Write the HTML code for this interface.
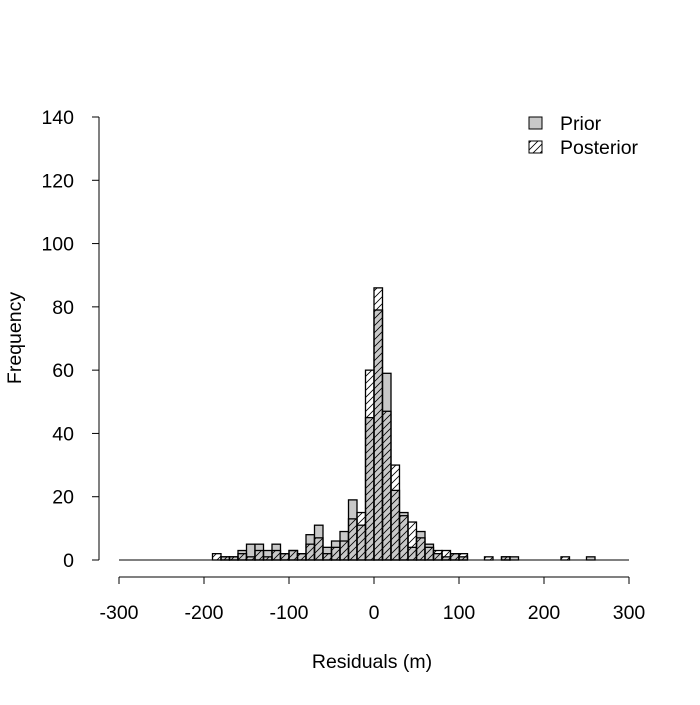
<!DOCTYPE html>
<html><head><meta charset="utf-8"><style>
body{margin:0;background:#fff;}
svg text{font-family:"Liberation Sans",Arial,sans-serif;font-size:19.5px;fill:#000;}
</style></head><body>
<svg id="chart" width="700" height="700" xmlns="http://www.w3.org/2000/svg">
<defs>
<pattern id="hatch" patternUnits="userSpaceOnUse" width="7" height="7">
<path d="M-1,8 L8,-1 M-1,1 L1,-1 M6,8 L8,6" stroke="#000" stroke-width="0.8"/>
</pattern>
</defs>
<g id="bars"></g>
<g id="axes"></g>
<g>
<rect x="529" y="117" width="13" height="12" fill="#c8c8c8" stroke="#000"/>
<text x="560" y="130">Prior</text>
<rect x="529" y="141" width="13" height="12" fill="url(#hatch)" stroke="#000"/>
<text x="560" y="154">Posterior</text>
</g>
<text x="372" y="668" text-anchor="middle">Residuals (m)</text>
<text transform="translate(21,338) rotate(-90)" text-anchor="middle">Frequency</text>
</svg>
<script>
const binStarts = [-190,-180,-170,-160,-150,-140,-130,-120,-110,-100,-90,-80,-70,-60,-50,-40,-30,-20,-10,0,10,20,30,40,50,60,70,80,90,100,130,150,160,220,250];
const priorCounts = [0,1,1,3,5,5,3,5,2,3,2,8,11,4,6,9,19,11,45,79,59,22,15,4,9,5,2,1,2,1,0,1,1,0,1];
const posteriorCounts = [2,1,1,2,1,3,1,3,2,3,2,5,7,2,4,6,13,15,60,86,47,30,14,12,7,4,3,3,2,2,1,1,0,1,0];
const xTicks = [-300,-200,-100,0,100,200,300];
const yTicks = [0,20,40,60,80,100,120,140];
const binWidth = 10;
const xs = v => 119 + (v + 300) * 510 / 600;
const ys = v => 560 - v * 443 / 140;
const NS = "http://www.w3.org/2000/svg";
const bars = document.getElementById('bars');
const axes = document.getElementById('axes');
function mk(tag, attrs, parent){const e=document.createElementNS(NS,tag);for(const k in attrs)e.setAttribute(k,attrs[k]);parent.appendChild(e);return e;}
const bl = mk('line',{x1:xs(-300),x2:xs(300),y1:ys(0),y2:ys(0),stroke:'#000'},bars);


binStarts.forEach((b,i)=>{
  const x0=xs(b), w=xs(b+binWidth)-x0;
  if(priorCounts[i]>0){
    const r=mk('rect',{x:x0,y:ys(priorCounts[i]),width:w,height:ys(0)-ys(priorCounts[i]),fill:'#c8c8c8',stroke:'#000','stroke-width':1.3},bars);
    
    
  }
});
binStarts.forEach((b,i)=>{
  const x0=xs(b), w=xs(b+binWidth)-x0;
  if(posteriorCounts[i]>0){
    const r=mk('rect',{x:x0,y:ys(posteriorCounts[i]),width:w,height:ys(0)-ys(posteriorCounts[i]),fill:'url(#hatch)',stroke:'#000','stroke-width':1.3},bars);
    
    
  }
});
const ya = mk('line',{x1:99,x2:99,y1:ys(0),y2:ys(140),stroke:'#000'},axes);


yTicks.forEach(t=>{
  mk('line',{x1:92,x2:99,y1:ys(t),y2:ys(t),stroke:'#000'},axes);
  const tx=mk('text',{x:74,y:ys(t)+7,'text-anchor':'end'},axes);
  tx.textContent=t;
  
  
});
const xa = mk('line',{x1:xs(-300),x2:xs(300),y1:577,y2:577,stroke:'#000'},axes);


xTicks.forEach(t=>{
  mk('line',{x1:xs(t),x2:xs(t),y1:577,y2:584,stroke:'#000'},axes);
  const tx=mk('text',{x:xs(t),y:619,'text-anchor':'middle'},axes);
  tx.textContent=t;
  
  
});
</script>
</body></html>
